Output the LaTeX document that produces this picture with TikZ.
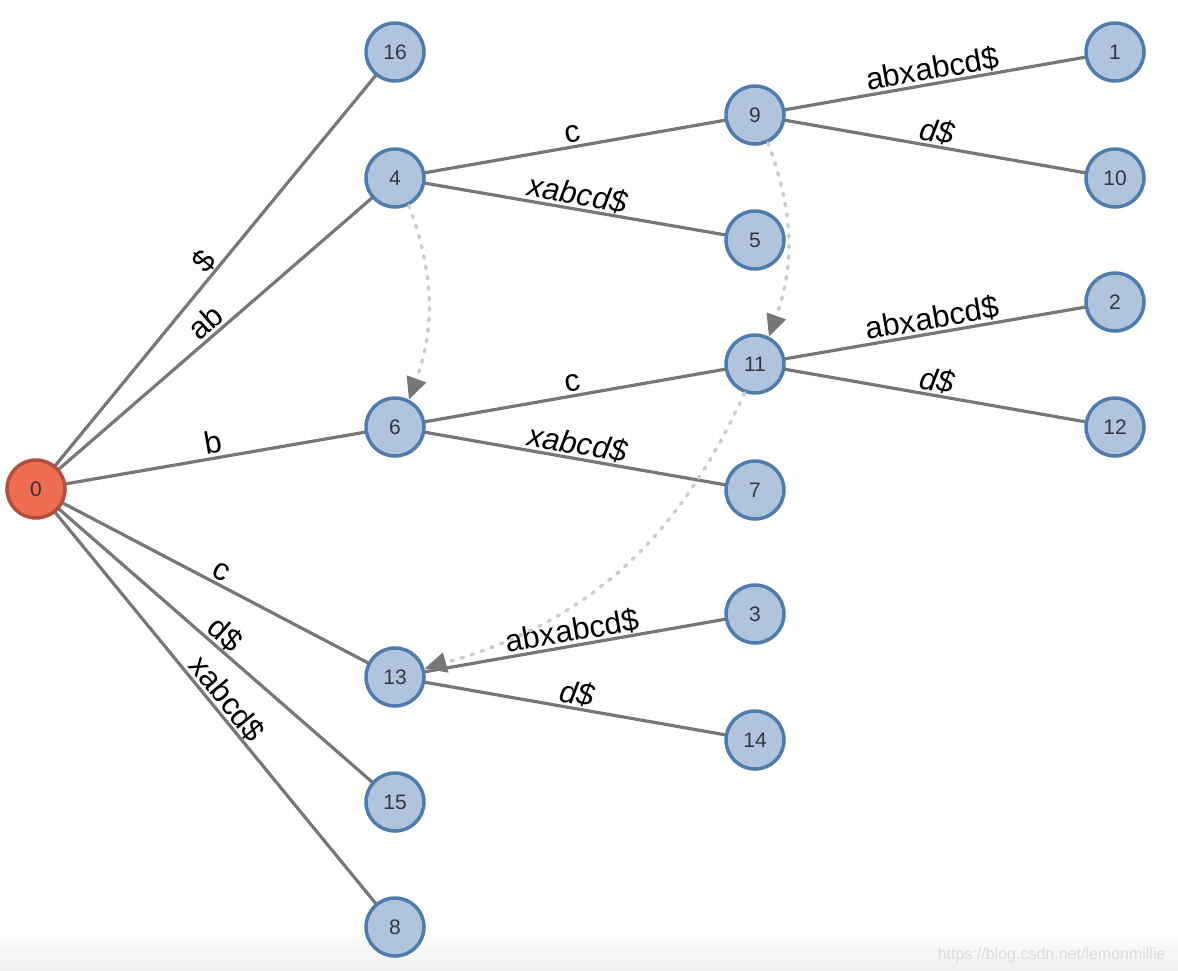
\documentclass[tikz,border=0pt]{standalone}
\usepackage{fontspec}
\setmainfont{Liberation Sans}
\usetikzlibrary{arrows.meta,backgrounds}
\definecolor{nodefill}{HTML}{B0C4DE}
\definecolor{nodeline}{HTML}{4F7CAC}
\definecolor{rootfill}{HTML}{EE6C4F}
\definecolor{rootline}{HTML}{B24E3B}
\definecolor{edgegray}{HTML}{777777}
\definecolor{linkgray}{HTML}{CCCCCC}
\definecolor{numcol}{HTML}{333840}
\tikzset{
  tnode/.style={circle, draw=nodeline, fill=nodefill, line width=3.5pt,
    minimum size=58pt, inner sep=0pt, font=\fontsize{21}{21}\selectfont, text=numcol},
  rootnode/.style={tnode, draw=rootline, fill=rootfill, text=black!80},
  edge/.style={draw=edgegray, line width=3.2pt},
  lbl/.style={sloped, above, inner sep=3pt, font=\fontsize{31}{31}\selectfont, text depth=0pt},
  ilbl/.style={lbl, font=\fontsize{31}{31}\selectfont\itshape},
  link/.style={draw=linkgray, line width=3.5pt, dash pattern=on 2.5pt off 8pt, line cap=round,
    -{Triangle[length=22pt,width=20pt,color=edgegray]}},
}
\begin{document}
\begin{tikzpicture}[x=1pt,y=1pt]
\useasboundingbox (0,0) rectangle (1178,-970);
\shade[top color=white, bottom color=black!6] (0,-930) rectangle (1178,-970);
\node[text=black!14, font=\fontsize{16}{16}\selectfont, anchor=east] (wm) at (1169,-955) {https://blog.csdn.net/lemonmillie};

\node[rootnode] (n0) at (36,-489) {0};
\node[tnode] (n16) at (395,-52) {16};
\node[tnode] (n4) at (395,-178) {4};
\node[tnode] (n6) at (395,-427) {6};
\node[tnode] (n13) at (395,-677) {13};
\node[tnode] (n15) at (395,-802) {15};
\node[tnode] (n8) at (395,-927) {8};
\node[tnode] (n9) at (755,-115) {9};
\node[tnode] (n5) at (755,-240) {5};
\node[tnode] (n11) at (755,-364) {11};
\node[tnode] (n7) at (755,-490) {7};
\node[tnode] (n3) at (755,-614) {3};
\node[tnode] (n14) at (755,-740) {14};
\node[tnode] (n1) at (1115,-52) {1};
\node[tnode] (n10) at (1115,-178) {10};
\node[tnode] (n2) at (1115,-302) {2};
\node[tnode] (n12) at (1115,-427) {12};

\begin{pgfonlayer}{background}
\draw[edge] (n0.center) -- node[lbl] {\$} (n16.center);
\draw[edge] (n0.center) -- node[lbl] {ab} (n4.center);
\draw[edge] (n0.center) -- node[lbl] {b} (n6.center);
\draw[edge] (n0.center) -- node[lbl] {c} (n13.center);
\draw[edge] (n0.center) -- node[lbl] {d\$} (n15.center);
\draw[edge] (n0.center) -- node[lbl] {xabcd\$} (n8.center);
\draw[edge] (n4.center) -- node[lbl] {c} (n9.center);
\draw[edge] (n4.center) -- node[ilbl] {xabcd\$} (n5.center);
\draw[edge] (n6.center) -- node[lbl] {c} (n11.center);
\draw[edge] (n6.center) -- node[ilbl] {xabcd\$} (n7.center);
\draw[edge] (n13.center) -- node[lbl] {abxabcd\$} (n3.center);
\draw[edge] (n13.center) -- node[ilbl] {d\$} (n14.center);
\draw[edge] (n9.center) -- node[lbl] {abxabcd\$} (n1.center);
\draw[edge] (n9.center) -- node[ilbl] {d\$} (n10.center);
\draw[edge] (n11.center) -- node[lbl] {abxabcd\$} (n2.center);
\draw[edge] (n11.center) -- node[ilbl] {d\$} (n12.center);
\end{pgfonlayer}

\draw[link] (n4.-63) to[bend left=20] (n6.63);
\draw[link] (n9.-65) to[bend left=20] (n11.63);
\draw[link] (n11.-110) to[bend left=25] (n13.16);
\end{tikzpicture}
\end{document}
